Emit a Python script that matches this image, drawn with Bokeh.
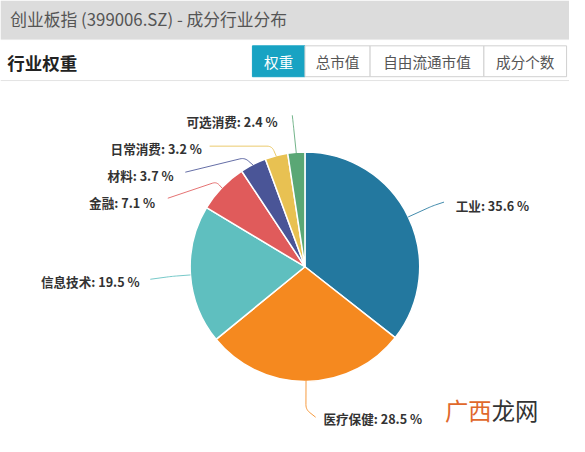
import numpy as np
from bokeh.plotting import figure
from bokeh.models import Range1d, ColumnDataSource
from bokeh.core.properties import value
from bokeh.embed import file_html
from bokeh.resources import INLINE

# ---------------- data ----------------
categories = ["工业", "医疗保健", "信息技术", "金融", "材料", "日常消费", "可选消费"]
weights = [35.6, 28.5, 19.5, 7.1, 3.7, 3.2, 2.4]
colors = ["#23789f", "#f5891f", "#5fbfbf", "#e05b5b", "#4a5597", "#e8c152", "#5aa775"]
page_title = "创业板指 (399006.SZ) - 成分行业分布"
section_title = "行业权重"
tabs = ["权重", "总市值", "自由流通市值", "成分个数"]
watermark = ["广西", "龙网"]

# ---------------- layout (reference pixel coords, mapped onto the figure) ----------------
REF_W, REF_H = 585, 452
W, H = 569, 436
FS = W / REF_W  # font scale
FONT = value("Noto Sans CJK SC")


def Y(y):
    return REF_H - y


def px(n):
    return f"{n * FS:.1f}px"


CX, CY, R = 313, 276, 118
# per-label layout: elbow, end, text x, text y, align
label_layout = [
    ((444, 213), (456, 209), 468, 213, "left"),
    ((314, 424), (324, 432), 332, 433, "left"),
    ((176, 286), (154, 289), 143, 291, "right"),
    ((222, 188), (172, 205), 159, 209, "right"),
    ((251, 163), (190, 178), 178, 181, "right"),
    ((279, 151), (215, 151), 207, 153, "right"),
    ((301, 128), (300, 119), 285, 125, "right"),
]
tab_edges = [259, 313, 380, 497, 582]

p = figure(width=W, height=H, output_backend="svg", toolbar_location=None,
           x_range=Range1d(0, REF_W), y_range=Range1d(0, REF_H),
           min_border=0, background_fill_color="white", border_fill_color="white")
p.axis.visible = False
p.grid.visible = False
p.outline_line_color = None

# header band
p.quad(left=0, right=REF_W, top=Y(0), bottom=Y(40), fill_color="#dcdcdc", line_color=None)
p.segment(x0=0, y0=Y(40.5), x1=REF_W, y1=Y(40.5), line_color="#e9e9e9", line_width=1)
p.text(x=10, y=Y(19), text=[page_title], text_font=FONT, text_font_size=px(17.3),
       text_color="#555555", text_baseline="middle", text_align="left")

# section title
p.text(x=7, y=Y(64), text=[section_title], text_font=FONT, text_font_size=px(18),
       text_font_style="bold", text_color="#222222", text_baseline="middle", text_align="left")
p.segment(x0=0, y0=Y(83), x1=REF_W, y1=Y(83), line_color="#e3e3e3", line_width=1)

# tabs
for i, t in enumerate(tabs):
    l, r = tab_edges[i], tab_edges[i + 1]
    active = i == 0
    p.quad(left=l, right=r, top=Y(47), bottom=Y(79),
           fill_color="#18a3c3" if active else "white",
           line_color="#18a3c3" if active else "#d0d0d0", line_width=1)
    p.text(x=(l + r) / 2, y=Y(63), text=[t], text_font=FONT, text_font_size=px(15),
           text_color="white" if active else "#555555", text_align="center",
           text_baseline="middle")

# pie
frac = np.array(weights) / sum(weights)
cum = np.concatenate([[0], np.cumsum(frac)])
start = np.pi / 2 - 2 * np.pi * cum[:-1]
end = np.pi / 2 - 2 * np.pi * cum[1:]
src = ColumnDataSource(dict(start=start, end=end, color=colors))
p.wedge(x=CX, y=Y(CY), radius=R, start_angle="start", end_angle="end", direction="clock",
        fill_color="color", line_color="white", line_width=1.5, source=src)

# leader lines and labels
mid = 2 * np.pi * (cum[:-1] + cum[1:]) / 2
xs, ys = [], []
for k, (elbow, endp, tx, ty, align) in enumerate(label_layout):
    s = np.array([CX + R * np.sin(mid[k]), CY - R * np.cos(mid[k])])
    e = np.array(elbow, float)
    f = np.array(endp, float)
    d1 = s - e
    d2 = f - e
    r = min(5.0, np.linalg.norm(d1) / 2, np.linalg.norm(d2) / 2)
    p1 = e + r * d1 / np.linalg.norm(d1)
    p2 = e + r * d2 / np.linalg.norm(d2)
    tt = np.linspace(0, 1, 8)
    curve = [((1 - u) ** 2) * p1 + 2 * (1 - u) * u * e + (u ** 2) * p2 for u in tt]
    pts = [s] + curve + [f]
    xs.append([pt[0] for pt in pts])
    ys.append([Y(pt[1]) for pt in pts])
    p.text(x=tx, y=Y(ty), text=[f"{categories[k]}: {weights[k]} %"], text_font=FONT,
           text_font_size=px(13), text_font_style="bold", text_color="#333333",
           text_align=align, text_baseline="middle")

p.multi_line(xs=xs, ys=ys, line_color=colors, line_width=1, line_alpha=0.85)

# watermark
p.text(x=457, y=Y(425), text=[watermark[0]], text_font=FONT, text_font_size=px(24),
       text_color="#e0682b", text_align="left", text_baseline="middle")
p.text(x=505, y=Y(425), text=[watermark[1]], text_font=FONT, text_font_size=px(24),
       text_color="#333333", text_align="left", text_baseline="middle")

open("out.html", "w").write(file_html(p, INLINE))
